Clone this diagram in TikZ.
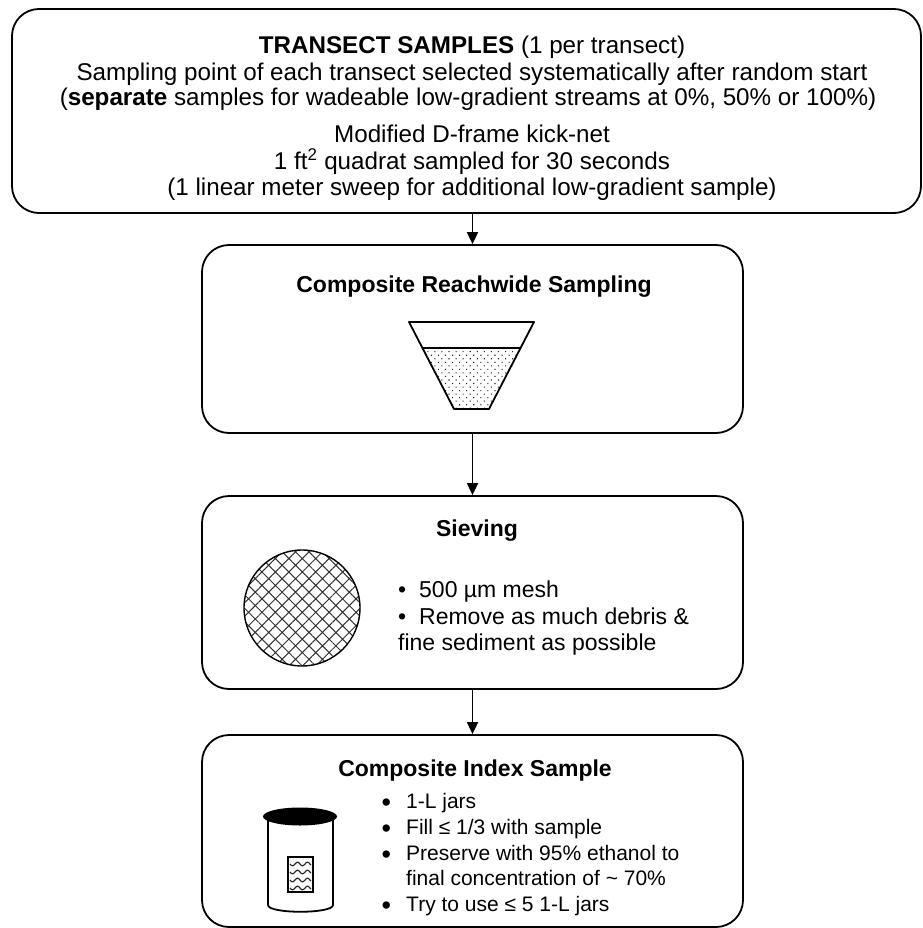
\documentclass[tikz,border=0pt]{standalone}
\usepackage{fontspec}
\setmainfont{Liberation Sans}
\usetikzlibrary{arrows.meta,patterns.meta}

\begin{document}
\begin{tikzpicture}[x=1pt,y=-1pt,
    stage/.style={draw,line width=1.8pt,rounded corners=27pt,inner sep=0pt},
    txt/.style={font=\fontsize{23}{26}\selectfont,anchor=base,inner sep=0pt},
    top/.style={txt,font=\fontsize{24.2}{26}\selectfont},
    head/.style={txt,font=\bfseries\fontsize{23}{26}\selectfont},
    item/.style={txt,anchor=base west},
    small/.style={item,font=\fontsize{21}{25}\selectfont},
    flow/.style={line width=1.8pt,-{Triangle[length=12pt,width=11pt]}},
    ink/.style={line width=1.8pt,line join=round}]
    \def\blt{\makebox[21pt][l]{•}}
    \def\dotb{\makebox[24.5pt][l]{\raisebox{-3pt}{\fontsize{27}{27}\selectfont •}}}
    \useasboundingbox (0,0) rectangle (922,928);

    % stages
    \node[stage,minimum width=909pt,minimum height=204pt] (transect) at (466.5,111) {};
    \node[stage,minimum width=541pt,minimum height=188pt] (reach) at (472.5,339) {};
    \node[stage,minimum width=541pt,minimum height=193pt] (sieve) at (472.5,592.5) {};
    \node[stage,minimum width=541pt,minimum height=192pt] (index) at (472.5,831) {};

    % transect samples
    \node[top] (ttl) at (472,54) {\textbf{TRANSECT SAMPLES} (1 per transect)};
    \node[top] (pick) at (472,81) {Sampling point of each transect selected systematically after random start};
    \node[top] (sep) at (468,106) {(\textbf{separate} samples for wadeable low-gradient streams at 0\%, 50\% or 100\%)};
    \node[top] (net) at (472,143) {Modified D-frame kick-net};
    \node[top] (quad) at (472,170) {1 ft\textsuperscript{2} quadrat sampled for 30 seconds};
    \node[top] (sweep) at (472,196) {(1 linear meter sweep for additional low-gradient sample)};

    % reachwide composite, funnel
    \node[head] (reachttl) at (474,292) {Composite Reachwide Sampling};
    \fill[pattern={Dots[distance=5pt,radius=0.75pt,angle=45]},pattern color=black!85]
        (422,348) -- (521,348) -- (489,409) -- (454,409) -- cycle;
    \draw[ink] (409,322) -- (534,322) -- (489,409) -- (454,409) -- cycle;
    \draw[ink] (422,348) -- (521,348);

    % sieving
    \node[head] (sievettl) at (477,536) {Sieving};
    \draw[line width=1.4pt,pattern={Hatch[angle=45,distance=9.5pt,line width=1pt]},pattern color=black!80]
        (302,608) circle[radius=58];
    \node[item] (mesh) at (398,597) {\blt 500 µm mesh};
    \node[item] (debris) at (398,624) {\blt Remove as much debris \&};
    \node[item] (fines) at (398,650) {fine sediment as possible};

    % index sample, jar
    \node[head] (indexttl) at (475,776) {Composite Index Sample};
    \node[small] (jars) at (381.5,808) {\dotb 1-L jars};
    \node[small] (fill) at (381.5,834) {\dotb Fill ≤ 1/3 with sample};
    \node[small] (etoh) at (381.5,860) {\dotb Preserve with 95\% ethanol to};
    \node[small] (conc) at (406,885) {final concentration of \textasciitilde{} 70\%};
    \node[small] (max) at (381.5,911) {\dotb Try to use ≤ 5 1-L jars};
    \draw[ink] (268,816) -- (268,905) .. controls (268,914) and (333,914) .. (333,905) -- (333,816);
    \fill (300,816.5) ellipse[x radius=37,y radius=9];
    \draw[line width=1.4pt,fill=white] (288,857) rectangle (313,892);
    \fill[pattern={Dots[distance=3pt,radius=0.45pt]},pattern color=black!50] (288,857) rectangle (313,892);
    \foreach \r in {864,872,880,888}
        \draw[line width=1.1pt,black!85] plot[domain=290:311,samples=25,smooth] (\x,{\r+1.8*sin(36*\x)});

    % links
    \draw[flow] (reach.north |- transect.south) -- (reach.north);
    \draw[flow] (reach.south) -- (sieve.north);
    \draw[flow] (sieve.south) -- (index.north);
\end{tikzpicture}
\end{document}
